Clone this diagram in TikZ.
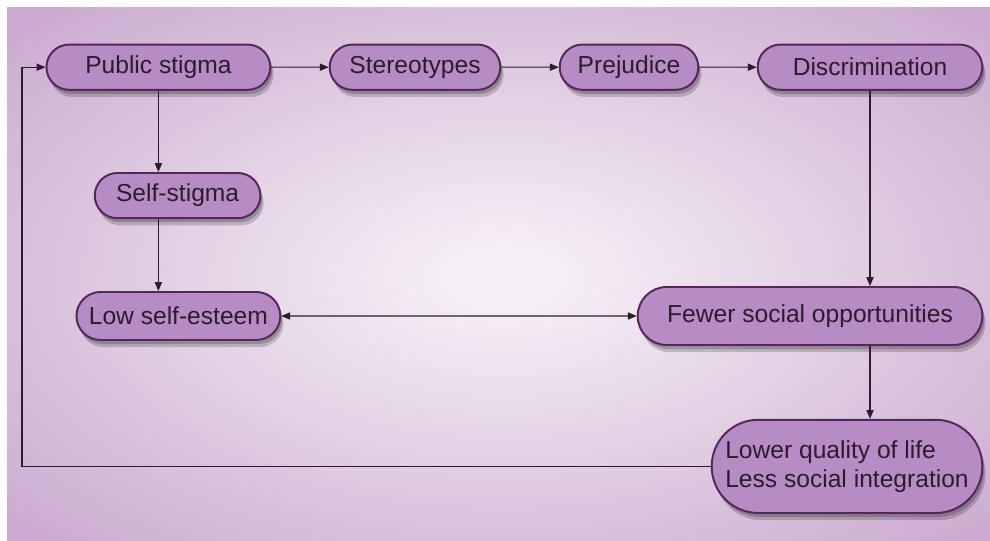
\documentclass[tikz,border=0pt]{standalone}
\usepackage{fontspec}
\setmainfont{Liberation Sans}
\usetikzlibrary{shapes.misc,shadows,arrows.meta}
\definecolor{bgedge}{HTML}{CBABD0}
\definecolor{bgdeep}{HTML}{C4A0CA}
\definecolor{bgmid}{HTML}{F5EEF5}
\definecolor{boxfill}{HTML}{B78BC4}
\definecolor{boxline}{HTML}{55275A}
\definecolor{ink}{HTML}{2C1C2E}
\pgfdeclareradialshading{bgglow}{\pgfpoint{0bp}{0bp}}{%
  color(0bp)=(bgmid); color(3bp)=(bgmid); color(34bp)=(bgedge); color(50bp)=(bgdeep)}
\tikzset{
  stage/.style={rounded rectangle, draw=boxline, line width=1.4pt, fill=boxfill,
    text=ink, font=\fontsize{17.5}{21}\selectfont, minimum height=1.13cm,
    drop shadow={shadow xshift=0.8mm, shadow yshift=-1.8mm, opacity=0.18, fill=black},
    drop shadow={shadow xshift=0.5mm, shadow yshift=-1mm, opacity=0.2, fill=black}},
  link/.style={draw=ink, line width=0.75pt, -{Triangle[length=2.2mm,width=1.8mm]}}
}
\begin{document}
\begin{tikzpicture}
  \useasboundingbox (0,0) rectangle (24.75,13.5);
  \fill[bgdeep] (0.175,-0.2) rectangle (25,13.3);
  \shade[shading=bgglow] (0.175,-0.2) rectangle (25,13.3);
  % top row
  \node[stage, minimum width=5.83cm] (pub) at (3.96,11.82) {Public stigma};
  \node[stage, minimum width=4.5cm] (ster) at (10.375,11.82) {Stereotypes};
  \node[stage, minimum width=3.7cm] (prej) at (15.725,11.82) {Prejudice};
  \node[stage, minimum width=5.85cm] (disc) at (21.75,11.82) {Discrimination};
  % left column
  \node[stage, minimum width=4.375cm] (self) at (4.44,8.61) {Self-stigma};
  \node[stage, minimum width=5.33cm, minimum height=1.2cm] (low) at (4.46,5.6) {Low self-esteem};
  % right column
  \node[stage, minimum width=8.85cm, minimum height=1.45cm] (fewer) at (20.25,5.6) {Fewer social opportunities};
  \node[stage, minimum width=7cm, minimum height=2.33cm, align=left] (lower) at (21.175,1.84)
    {Lower quality of life\\Less social integration};
  \coordinate (loop) at (0.55,11.82);
  % connectors
  \draw[link] (pub) -- (ster);
  \draw[link] (ster) -- (prej);
  \draw[link] (prej) -- (disc);
  \draw[link] (pub.south) -- (pub.south |- self.north);
  \draw[link] (pub.south |- self.south) -- (pub.south |- low.north);
  \draw[link] (disc.south) -- (disc.south |- fewer.north);
  \draw[link] (disc.south |- fewer.south) -- (disc.south |- lower.north);
  \draw[link, {Triangle[length=2.2mm,width=1.8mm]}-{Triangle[length=2.2mm,width=1.8mm]}] (low) -- (fewer);
  \draw[link] (lower.west) -| (loop) -- (pub.west);
\end{tikzpicture}
\end{document}
